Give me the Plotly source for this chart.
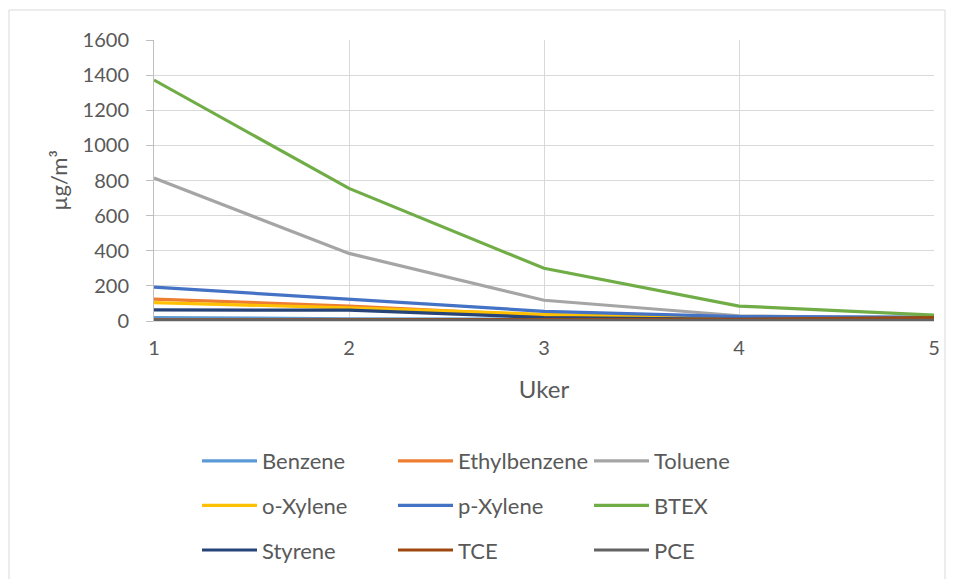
import plotly.graph_objects as go

weeks = [1, 2, 3, 4, 5]
series_names = ["Benzene", "Ethylbenzene", "Toluene", "o-Xylene", "p-Xylene", "BTEX", "Styrene", "TCE", "PCE"]
benzene = [20, 12, 10, 8, 6]
ethylbenzene = [125, 85, 32, 14, 8]
toluene = [814, 385, 118, 30, 12]
o_xylene = [105, 75, 38, 14, 8]
p_xylene = [193, 122, 55, 25, 22]
btex = [1372, 755, 300, 85, 34]
styrene = [63, 62, 20, 10, 6]
tce = [6, 6, 8, 10, 20]
pce = [3, 3, 3, 3, 3]
values = [benzene, ethylbenzene, toluene, o_xylene, p_xylene, btex, styrene, tce, pce]
colors = ["#5B9BD5", "#ED7D31", "#A5A5A5", "#FFC000", "#4472C4", "#70AD47", "#264478", "#9E480E", "#636363"]

FONT = "Lato"
TXT = "#595959"
W, H = 957, 579
OFF = 8  # page body margin offset
# plot area in target screen coordinates: x 154..934, y 40..321
L = 154 - OFF
T = 40 - OFF
R = W - (934 - OFF)
B = H - (321 - OFF)
pw, ph = W - L - R, H - T - B

def px(x):
    return (x - OFF - L) / pw

def py(y):
    return (H - B - (y - OFF)) / ph

legend_ids = ["legend", "legend2", "legend3"]
fig = go.Figure()
for i, (name, vals, col) in enumerate(zip(series_names, values, colors)):
    fig.add_trace(go.Scatter(x=weeks, y=vals, mode="lines", name=name,
                             line=dict(color=col, width=3.2),
                             legend=legend_ids[i % 3], legendgroup=name))

col_x = [202, 398, 594]
leg_common = dict(orientation="v", yanchor="top", xanchor="left", traceorder="grouped",
                  font=dict(family=FONT, size=22, color=TXT), itemwidth=55,
                  tracegroupgap=13, bgcolor="rgba(0,0,0,0)", borderwidth=0)
legends = {}
for lid, cx in zip(legend_ids, col_x):
    legends[lid] = dict(x=px(cx - 5), y=py(440), **leg_common)

fig.update_layout(
    width=W, height=H,
    margin=dict(l=L, r=R, t=T, b=B, autoexpand=False),
    paper_bgcolor="white", plot_bgcolor="white",
    font=dict(family=FONT, size=20, color=TXT),
    showlegend=True,
    xaxis=dict(range=[1, 5], tickvals=weeks, ticktext=[str(w) for w in weeks],
               showgrid=True, gridcolor="#D9D9D9", gridwidth=1,
               showline=True, linecolor="#D9D9D9", linewidth=1,
               ticks="", ticklabelstandoff=9, zeroline=False,
               title=dict(text="Uker", font=dict(size=24, color=TXT), standoff=23)),
    yaxis=dict(range=[0, 1600], dtick=200, showgrid=True, gridcolor="#D9D9D9", gridwidth=1,
               showline=True, linecolor="#BFBFBF", linewidth=1,
               ticks="outside", ticklen=7, tickcolor="#BFBFBF", zeroline=False,
               ticklabelstandoff=13,
               title=dict(text="µg/m³", font=dict(size=22, color=TXT), standoff=8)),
    shapes=[dict(type="rect", xref="paper", yref="paper",
                 x0=px(9), x1=px(945), y0=py(620), y1=py(10),
                 line=dict(color="#D9D9D9", width=1), layer="below")],
    **legends,
)

fig.write_html("out.html")
